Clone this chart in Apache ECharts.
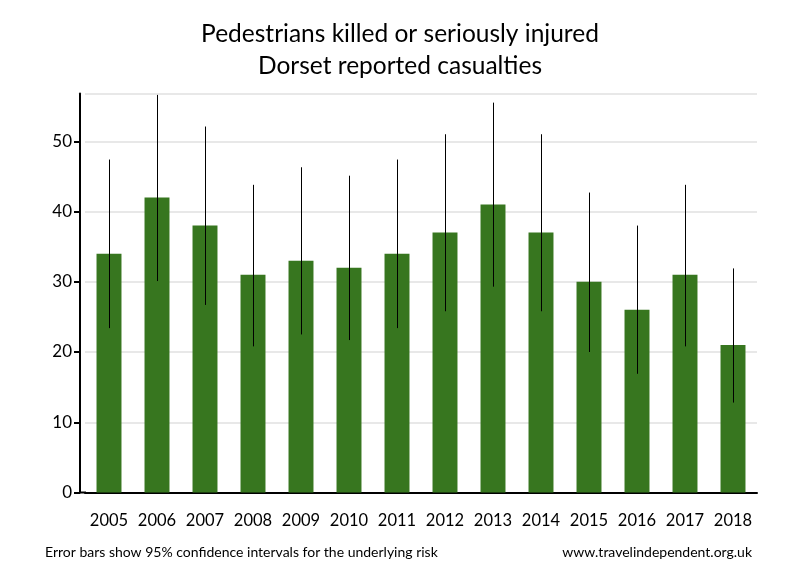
<!DOCTYPE html>
<html><head><meta charset="utf-8">
<script src="https://cdn.jsdelivr.net/npm/echarts@6/dist/echarts.min.js"></script>
<style>html,body{margin:0;padding:0;background:#fff}#c{width:800px;height:580px}</style>
</head><body><div id="c"></div>
<script>
const years = ['2005','2006','2007','2008','2009','2010','2011','2012','2013','2014','2015','2016','2017','2018'];
const casualties = [34,42,38,31,33,32,34,37,41,37,30,26,31,21];
const ciLow  = [23.4,30.1,26.7,20.8,22.5,21.7,23.4,25.8,29.3,25.8,20.0,16.9,20.8,12.8];
const ciHigh = [47.4,56.6,52.1,43.8,46.3,45.1,47.4,51.0,55.5,51.0,42.7,38.0,43.8,31.9];
const yTicks = [0,10,20,30,40,50];

const font = 'Lato, "Open Sans", sans-serif';
const chart = echarts.init(document.getElementById('c'), null, {renderer:'canvas'});
chart.setOption({
  animation:false,
  backgroundColor:'#fff',
  title:[
    {text:'Pedestrians killed or seriously injured\nDorset reported casualties', left:'center', top:13,
     textStyle:{fontFamily:font, fontSize:24.5, fontWeight:'normal', color:'#000', lineHeight:32}}
  ],
  grid:{left:85, right:43, top:93.5, bottom:87.5, containLabel:false},
  xAxis:{type:'category', data:years, boundaryGap:true,
    axisLine:{show:true, lineStyle:{color:'#000', width:2}},
    axisTick:{show:false},
    axisLabel:{fontFamily:font, fontSize:16.5, color:'#000', margin:20, interval:0}},
  yAxis:{type:'value', min:0, max:56.8, interval:10, offset:5,
    axisLine:{show:true, lineStyle:{color:'#000', width:2}},
    axisTick:{show:true, length:6, lineStyle:{color:'#000', width:2}},
    splitLine:{show:true, lineStyle:{color:'#e8e8e8', width:2}},
    axisLabel:{fontFamily:font, fontSize:17, color:'#000', margin:8,
      showMaxLabel:false,
      formatter:v => yTicks.includes(v) ? String(v) : ''}},
  series:[
    {type:'bar', data:casualties, barWidth:'52%', itemStyle:{color:'#37761f'}, z:2},
    {type:'custom', z:3,
     data: years.map((y,i)=>[i, ciLow[i], ciHigh[i]]),
     renderItem:(params, api)=>{
       const lo = api.coord([api.value(0), api.value(1)]);
       const hi = api.coord([api.value(0), api.value(2)]);
       const x = Math.round(lo[0]) + 0.5;
       return {type:'line', shape:{x1:x, y1:lo[1], x2:x, y2:hi[1]}, style:{stroke:'#000', lineWidth:1}};
     }}
  ],
  graphic:[
    {type:'line', shape:{x1:79, y1:492.5, x2:86, y2:492.5}, style:{stroke:'#000', lineWidth:2}},
    {type:'text', left:45, top:545, style:{text:'Error bars show 95% confidence intervals for the underlying risk', fontFamily:font, fontSize:14, fill:'#000'}},
    {type:'text', right:48, top:545, style:{text:'www.travelindependent.org.uk', fontFamily:font, fontSize:14, fill:'#000'}}
  ]
});
</script></body></html>
